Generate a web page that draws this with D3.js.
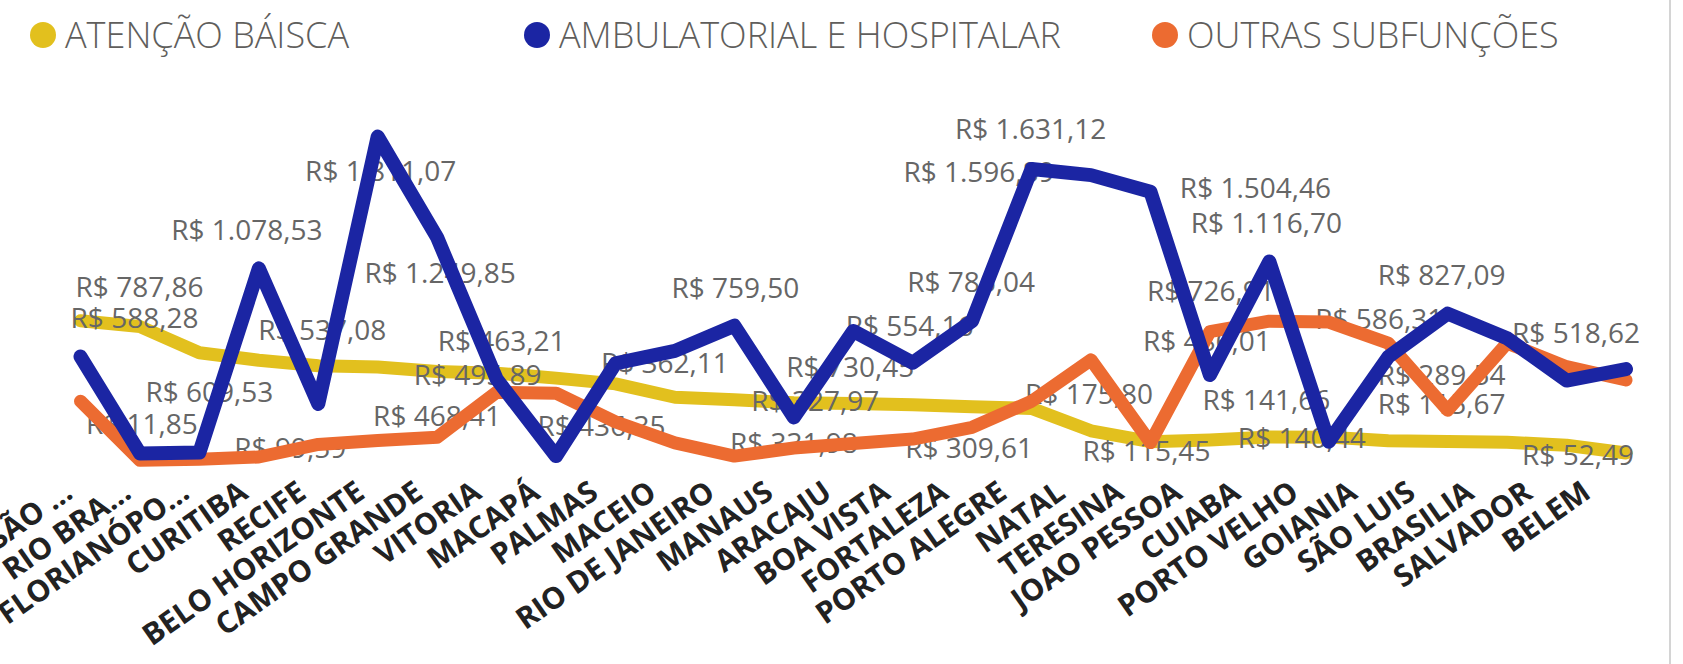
<!DOCTYPE html>
<html>
<head>
<meta charset="utf-8">
<script src="https://cdn.jsdelivr.net/npm/d3@7"></script>
<style>
body{margin:0;background:#fff;}
svg{display:block;}
</style>
</head>
<body>
<div class="chart"></div>
<script>

//// data

const cities = ['SÃO PAULO','RIO BRANCO','FLORIANÓPOLIS','CURITIBA','RECIFE','BELO HORIZONTE','CAMPO GRANDE','VITORIA','MACAPÁ','PALMAS','MACEIO','RIO DE JANEIRO','MANAUS','ARACAJU','BOA VISTA','FORTALEZA','PORTO ALEGRE','NATAL','TERESINA','JOAO PESSOA','CUIABA','PORTO VELHO','GOIANIA','SÃO LUIS','BRASILIA','SALVADOR','BELEM'];

// the first three get cut short in the original
const tickLabels = ['SÃO ...','RIO BRA...','FLORIANÓPO...','CURITIBA','RECIFE','BELO HORIZONTE','CAMPO GRANDE','VITORIA','MACAPÁ','PALMAS','MACEIO','RIO DE JANEIRO','MANAUS','ARACAJU','BOA VISTA','FORTALEZA','PORTO ALEGRE','NATAL','TERESINA','JOAO PESSOA','CUIABA','PORTO VELHO','GOIANIA','SÃO LUIS','BRASILIA','SALVADOR','BELEM'];

const atencaoBasica = [787.86,755,609.53,568,537.08,530,505,495.89,468.41,436.35,362.11,348,331.98,327.97,320,309.61,300,175.80,115.45,125,141.66,140.44,120,115.67,112,95,52.49];
const ambulatorial = [588.28,50,55,1078.53,325,1811.07,1249.85,463.21,35,550,620,759.50,250,730.45,554.16,786.04,1631.12,1596.89,1504.46,486.01,1116.70,115,586.31,827.09,690,455,518.62];
const outras = [340,11.85,18,30,99.59,122,140,390,385,225,108,35,80,105,130,195,340,570,110,726.91,785,780,663,289.54,663,532,458];

const seriesNames = ['ATENÇÃO BÁISCA','AMBULATORIAL E HOSPITALAR','OUTRAS SUBFUNÇÕES'];
const seriesColors = ['#E2C01E','#1B25A3','#EC6B31'];

// which points carry a value label: [series, city index, dx, dy]
const labelPlacement = [
    [0,0,59,-33],[1,0,54,-38],[0,2,10,39],[2,1,2,-36],[1,3,-12,-38],
    [0,4,4,-36],[2,4,-28,4],[1,5,3,35],[1,6,3,36],[0,8,-119,38],
    [1,7,5,-38],[0,7,-19,2],[0,9,-14,42],[0,10,-10,-34],[1,11,1,-38],
    [0,12,0,41],[0,13,-38,-2],[1,13,-3,36],[1,14,-3,-37],[1,15,-1,-39],
    [0,15,-3,41],[1,16,-1,-40],[1,17,-112,-3],[0,17,-2,-37],[0,18,-4,10],
    [1,18,105,-4],[1,20,-3,-38],[2,19,1,-40],[1,19,-3,-34],[0,20,-3,-37],
    [0,21,-27,1],[1,22,-9,-38],[1,23,-6,-38],[2,23,-6,-35],[0,23,-6,-37],
    [1,26,-50,-36],[0,26,-48,2]
];



//// setup

const series = [atencaoBasica, ambulatorial, outras];

const w = 1683;
const h = 664;
const font = "'Segoe UI','Open Sans','Noto Sans',sans-serif";

const br = d3.formatLocale({decimal: ',', thousands: '.', grouping: [3], currency: ['R$ ', '']});
const fmt = br.format('$,.2f');

const x = d3.scalePoint()
    .domain(cities)
    .range([80.5, 1626]);

// the rotated names sit a little tighter than the points
const xLabel = d3.scalePoint()
    .domain(cities)
    .range([68, 1586]);

const y = d3.scaleLinear()
    .domain([0, 2000])
    .range([462.4, 102.6]);

const svg = d3.select('.chart')
    .append('svg')
    .attr('width', w)
    .attr('height', h)
    .style('overflow', 'hidden');

svg.append('rect')
    .attr('width', w)
    .attr('height', h)
    .attr('fill', '#fff');

// thin frame edge on the right
svg.append('line')
    .attr('x1', 1670).attr('x2', 1670)
    .attr('y1', 0).attr('y2', h)
    .style('stroke', '#d4d4d4')
    .style('stroke-width', 2);



//// legend

const legendX = [43, 537, 1165];

const legend = svg.selectAll('.legend')
    .data(seriesNames)
    .enter().append('g')
    .attr('class', 'legend')
    .attr('transform', (d, i) => `translate(${legendX[i]}, 35)`);

legend.append('circle')
    .attr('r', 13)
    .style('fill', (d, i) => seriesColors[i]);

legend.append('text')
    .attr('x', 22)
    .attr('dy', '0.35em')
    .text(d => d)
    .style('font-family', font)
    .style('font-weight', 300)
    .style('font-size', '36px')
    .style('fill', '#605E5C');



//// x axis, rotated city names

const axis = svg.append('g')
    .attr('transform', 'translate(0, 488)')
    .call(d3.axisBottom(xLabel).tickSize(0).tickFormat((d, i) => tickLabels[i]));

axis.select('.domain').remove();

axis.selectAll('text')
    .attr('x', 0)
    .attr('y', 0)
    .attr('dy', '0.35em')
    .attr('text-anchor', 'end')
    .attr('transform', 'rotate(-35)')
    .style('font-family', font)
    .style('font-weight', 700)
    .style('font-size', '30px')
    .style('fill', '#222');



//// lines and labels - yellow first, then labels, then orange and blue on top

const line = d3.line()
    .x((d, i) => x(cities[i]))
    .y(d => y(d));

function drawLine(k, width){
    svg.append('path')
        .datum(series[k])
        .attr('d', line)
        .style('fill', 'none')
        .style('stroke', seriesColors[k])
        .style('stroke-width', width)
        .style('stroke-linejoin', 'round')
        .style('stroke-linecap', 'round');
}

drawLine(0, 13);

svg.selectAll('.vlabel')
    .data(labelPlacement)
    .enter().append('text')
    .attr('class', 'vlabel')
    .attr('x', d => x(cities[d[1]]) + d[2])
    .attr('y', d => y(series[d[0]][d[1]]) + d[3])
    .attr('dy', '0.35em')
    .attr('text-anchor', 'middle')
    .text(d => fmt(series[d[0]][d[1]]))
    .style('font-family', font)
    .style('font-size', '28px')
    .style('fill', '#666');

drawLine(2, 13);
drawLine(1, 14);

</script>
</body>
</html>
